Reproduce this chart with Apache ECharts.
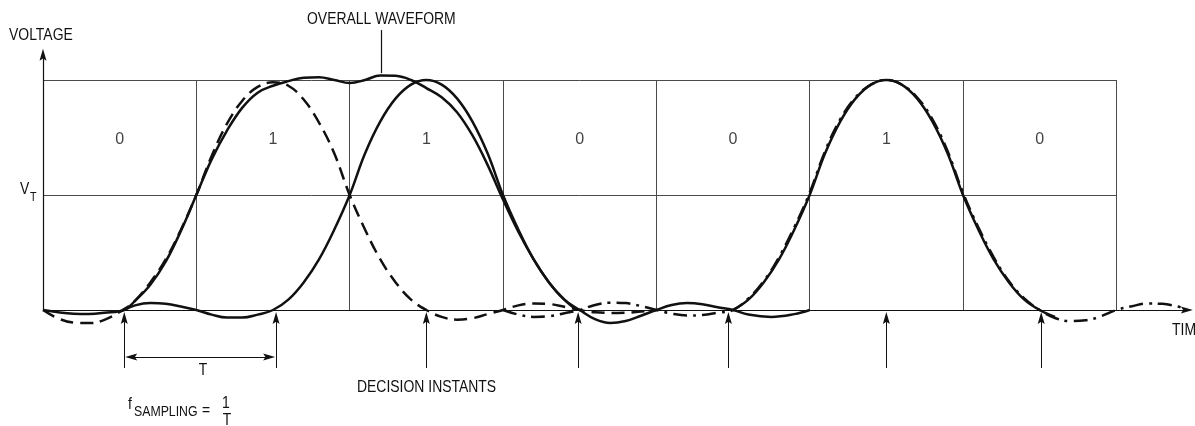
<!DOCTYPE html>
<html><head><meta charset="utf-8">
<script src="https://cdn.jsdelivr.net/npm/echarts@6/dist/echarts.min.js"></script>
<style>html,body{margin:0;padding:0;background:#fff}#c{width:1195px;height:426px}</style>
</head><body><div id="c"></div>
<script>
// ---- data (units: x = bit periods from left edge, y = fraction of peak voltage) ----
const bits = ['0', '1', '1', '0', '0', '1', '0'];
const bitCentres = [0.5, 1.5, 2.5, 3.5, 4.5, 5.5, 6.5];
const decisionInstants = [0.53, 1.52, 2.5, 3.49, 4.47, 5.5, 6.51];
const columnEdges = [1, 2, 3, 4, 5, 6, 7];
const levelLines = [0.5, 1];           // V_T and peak
const pulseDashed = [[0,0],[0.1,-0.037],[0.2,-0.055],[0.3,-0.057],[0.4,-0.043],[0.52,0],[0.6,0.04],[0.7,0.12],[0.8,0.22],
  [0.9,0.35],[1.0,0.5],[1.1,0.67],[1.2,0.81],[1.3,0.91],[1.4,0.97],[1.5,0.99],[1.6,0.975],[1.7,0.915],[1.8,0.815],[1.9,0.68],
  [2.0,0.5],[2.1,0.35],[2.2,0.22],[2.3,0.12],[2.4,0.045],[2.5,0],[2.6,-0.03],[2.7,-0.042],[2.8,-0.036],[2.9,-0.018],[3.0,0],
  [3.1,0.02],[3.2,0.028],[3.3,0.026],[3.4,0.014],[3.5,0],[3.6,-0.01],[3.75,-0.013],[3.9,-0.007],[4.0,0]];
const overallWave = [[0,0],[0.1,-0.01],[0.2,-0.016],[0.3,-0.017],[0.4,-0.012],[0.53,0],[0.6,0.04],[0.7,0.11],[0.8,0.21],
  [0.9,0.345],[1.0,0.5],[1.1,0.655],[1.2,0.78],[1.3,0.88],[1.4,0.945],[1.5,0.975],[1.6,0.995],[1.7,1.01],[1.8,1.012],
  [1.9,1.0],[2.0,0.987],[2.1,1.0],[2.2,1.02],[2.3,1.018],[2.4,1.0],[2.5,0.965],[2.6,0.925],[2.7,0.86],[2.8,0.76],[2.9,0.63],
  [3.0,0.48],[3.1,0.34],[3.2,0.22],[3.3,0.12],[3.4,0.045],[3.48,0]];
const pulseSecond = [[0.53,0],[0.6,0.02],[0.7,0.03],[0.8,0.027],[0.9,0.015],[1.0,0],[1.1,-0.02],[1.2,-0.033],[1.3,-0.033],
  [1.4,-0.02],[1.5,0],[1.6,0.045],[1.7,0.12],[1.8,0.22],[1.9,0.35],[2.0,0.5],[2.1,0.68],[2.2,0.82],[2.3,0.92],[2.4,0.98],
  [2.5,1.0],[2.6,0.98],[2.7,0.92],[2.8,0.82],[2.9,0.68],[3.0,0.5],[3.1,0.35],[3.2,0.22],[3.3,0.12],[3.4,0.045],[3.5,0],
  [3.6,-0.04],[3.7,-0.057],[3.8,-0.048],[3.9,-0.025],[4.0,0],[4.1,0.022],[4.2,0.03],[4.3,0.025],[4.4,0.012],[4.5,0],
  [4.6,-0.02],[4.75,-0.03],[4.9,-0.018],[5.0,0]];
const pulseThird = [[4.5,0],[4.6,0.045],[4.7,0.12],[4.8,0.22],[4.9,0.35],[5.0,0.5],[5.1,0.68],[5.2,0.82],[5.3,0.92],
  [5.4,0.98],[5.5,1.0],[5.6,0.98],[5.7,0.92],[5.8,0.82],[5.9,0.68],[6.0,0.5],[6.1,0.35],[6.2,0.22],[6.3,0.12],[6.4,0.045],
  [6.5,0],[6.6,-0.03]];
const pulseDashDot = [[3.0,0],[3.1,-0.02],[3.2,-0.03],[3.3,-0.027],[3.4,-0.014],[3.5,0],[3.6,0.022],[3.7,0.032],[3.8,0.03],
  [3.9,0.017],[4.0,0],[4.1,-0.016],[4.2,-0.024],[4.3,-0.022],[4.4,-0.012],[4.5,0],[4.6,0.05],[4.7,0.125],[4.8,0.23],
  [4.9,0.36],[5.0,0.51],[5.1,0.69],[5.2,0.83],[5.3,0.925],[5.4,0.98],[5.5,1.0],[5.6,0.98],[5.7,0.925],[5.8,0.83],[5.9,0.69],
  [6.0,0.51],[6.1,0.36],[6.2,0.23],[6.3,0.125],[6.4,0.05],[6.5,0],[6.6,-0.035],[6.7,-0.048],[6.8,-0.045],[6.9,-0.027],
  [7.0,0],[7.1,0.016],[7.2,0.028],[7.3,0.027],[7.4,0.015],[7.46,0.005]];

// ---- chart ----
const FONT = "'Liberation Sans', Arial, sans-serif";
const INK = '#111';
const lastEdge = columnEdges[columnEdges.length - 1];

const frameLines = [];
levelLines.forEach(v => frameLines.push([{coord: [0, v]}, {coord: [lastEdge, v]}]));
columnEdges.forEach(u => frameLines.push([{coord: [u, 0]}, {coord: [u, 1]}]));

const ARROW = 'path://M5,0 L10,16 L5,13 L0,16 Z';
const decisionArrows = decisionInstants.map(u => [
  {coord: [u, -0.252], symbol: 'none'},
  {coord: [u, -0.035], symbol: ARROW, symbolSize: [7, 12]}
]);

function curve(name, data, type) {
  return {
    name, type: 'line', data, smooth: 0.4, showSymbol: false, silent: true, z: 5,
    lineStyle: {color: INK, width: 2.5, type: type, cap: 'butt'}
  };
}
function txt(text, x, y, size, align) {
  return {type: 'text', x: x, y: y, scaleX: 0.82, silent: true,
    style: {text: text, font: size + 'px ' + FONT, fill: INK,
      align: align || 'left', verticalAlign: 'middle', textAlign: align || 'left', textVerticalAlign: 'middle'}};
}

const chart = echarts.init(document.getElementById('c'), null, {renderer: 'canvas'});
chart.setOption({
  animation: false,
  backgroundColor: '#fff',
  grid: {left: 43, right: 2, top: 11, bottom: 1},
  xAxis: {type: 'value', min: 0, max: 7.5, show: false},
  yAxis: {type: 'value', min: -0.5, max: 1.3, show: false},
  series: [
    {type: 'line', data: [], silent: true,
      markLine: {silent: true, symbol: 'none', label: {show: false},
        lineStyle: {color: '#4a4a4a', width: 1, type: 'solid'}, data: frameLines}},
    {type: 'line', data: [], silent: true,
      markLine: {silent: true, label: {show: false}, lineStyle: {color: INK, width: 1.2, type: 'solid'},
        data: [
          [{coord: [0, 0], symbol: 'none'}, {coord: [0, 1.11], symbol: ARROW, symbolSize: [7, 12]}],
          [{coord: [0, 0], symbol: 'none'}, {coord: [7.46, 0], symbol: ARROW, symbolSize: [7, 12]}],
          [{coord: [2.204, 1.03], symbol: 'none'}, {coord: [2.204, 1.217], symbol: 'none'}]
        ]}},
    {type: 'line', data: [], silent: true,
      markLine: {silent: true, label: {show: false}, lineStyle: {color: INK, width: 1, type: 'solid'},
        data: decisionArrows.concat([
          [{coord: [decisionInstants[0] + 0.045, -0.204], symbol: ARROW, symbolSize: [7, 12]},
           {coord: [decisionInstants[1] - 0.045, -0.204], symbol: ARROW, symbolSize: [7, 12]}]
        ])}},
    curve('dashed', pulseDashed, [13, 7]),
    curve('second', pulseSecond, 'solid'),
    curve('overall', overallWave, 'solid'),
    curve('third', pulseThird, 'solid'),
    curve('dashdot', pulseDashDot, [14, 6, 3, 6]),
    {type: 'scatter', silent: true, symbolSize: 0,
      data: bitCentres.map(u => [u, 0.739]),
      label: {show: true, position: 'inside', formatter: p => bits[p.dataIndex],
        fontFamily: FONT, fontSize: 16, color: INK}}
  ],
  graphic: [
    txt('VOLTAGE', 9, 35, 17),
    txt('OVERALL WAVEFORM', 307, 19, 17),
    txt('V', 20, 189, 17),
    txt('T', 30, 197, 13),
    txt('T', 203, 370, 17, 'center'),
    txt('DECISION INSTANTS', 357, 387, 17),
    txt('f', 128, 404, 17),
    txt('SAMPLING', 134, 412, 15),
    txt('=', 202, 410, 17),
    txt('1', 226, 403, 17, 'center'),
    txt('T', 227, 420, 17, 'center'),
    txt('TIME', 1172, 330, 17)
  ]
});
</script></body></html>
